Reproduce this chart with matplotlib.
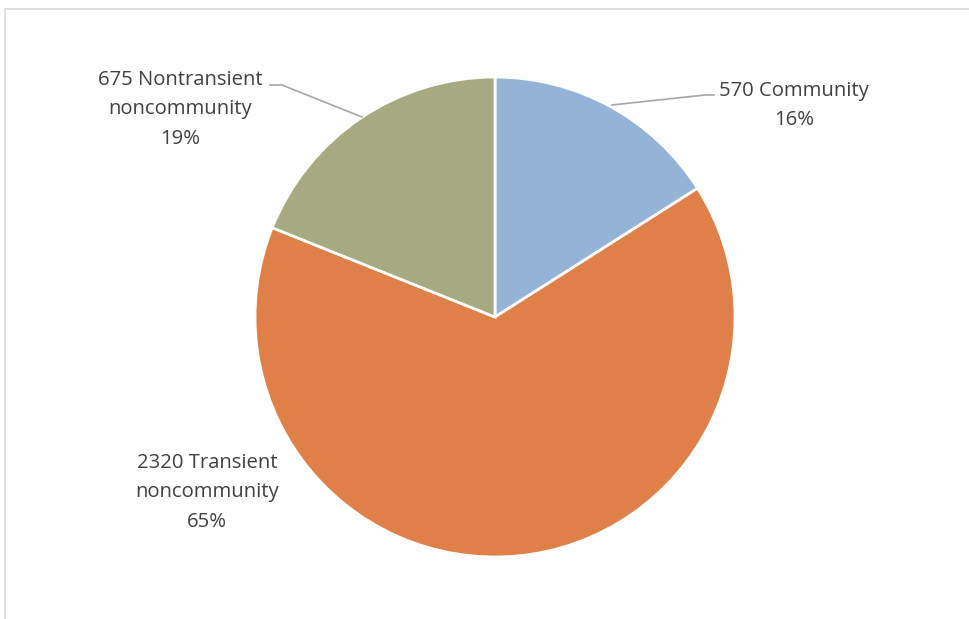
import numpy as np
import matplotlib.pyplot as plt
from matplotlib.patches import Rectangle

names = ['Community', 'Transient\nnoncommunity', 'Nontransient\nnoncommunity']
counts = [570, 2320, 675]
colors = ['#95B3D7', '#DE8047', '#A5AA80']

W, H = 969, 619
fig = plt.figure(figsize=(W / 100, H / 100), dpi=100)
ax = fig.add_axes([0, 0, 1, 1])

# chart frame (only top and left edges are visible in the crop)
ax.add_patch(Rectangle((5.5, -10), W + 20, H - 8.5 + 10, fill=False,
                       edgecolor='#D9D9D9', linewidth=1.2))

cx, cy, r = 495, H - 317, 240
ax.pie(counts, colors=colors, startangle=90, counterclock=False,
       center=(cx, cy), radius=r, frame=True,
       wedgeprops=dict(edgecolor='white', linewidth=2))
ax.set_xlim(0, W)
ax.set_ylim(0, H)
ax.set_aspect('equal')
ax.axis('off')

total = sum(counts)
pcts = [round(100 * c / total) for c in counts]
labels = ['%d %s\n%d%%' % (c, n, p) for c, n, p in zip(counts, names, pcts)]

font = dict(family='Open Sans', fontsize=14.6, color='#404040',
            ha='center', va='top', linespacing=1.62)

ax.text(794, H - 81, labels[0], **font)
ax.text(207, H - 453, labels[1], **font)
ax.text(180, H - 70, labels[2], **font)

# leader lines
lc = '#A6A6A6'
ax.plot([612, 705, 714], [H - 105, H - 95, H - 95], color=lc, lw=1.2)
ax.plot([362, 282, 270], [H - 117, H - 85, H - 85], color=lc, lw=1.2)

fig.savefig('out.png', dpi=100, facecolor='white')
